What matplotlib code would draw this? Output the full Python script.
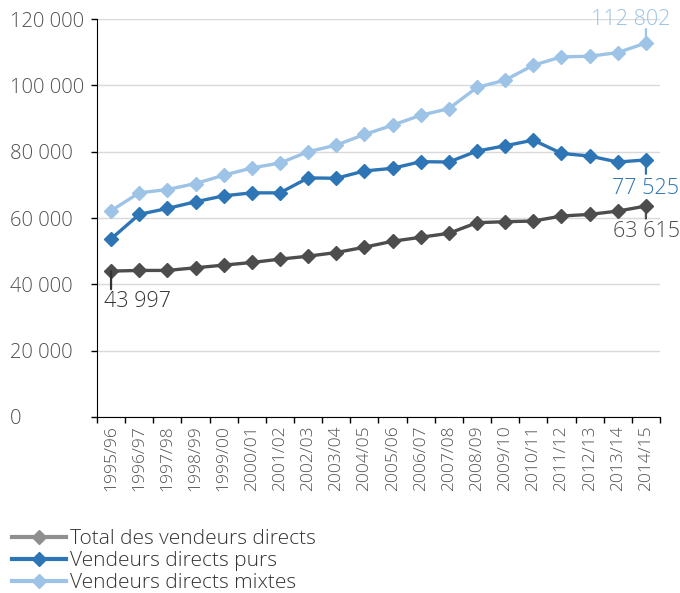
import matplotlib
matplotlib.use("Agg")
import matplotlib.pyplot as plt
from matplotlib.lines import Line2D
from matplotlib.ticker import FuncFormatter, MultipleLocator

plt.rcParams["font.family"] = ["Open Sans", "DejaVu Sans"]

seasons = [
    "1995/96", "1996/97", "1997/98", "1998/99", "1999/00", "2000/01",
    "2001/02", "2002/03", "2003/04", "2004/05", "2005/06", "2006/07",
    "2007/08", "2008/09", "2009/10", "2010/11", "2011/12", "2012/13",
    "2013/14", "2014/15",
]
total = [43997, 44200, 44200, 45000, 45800, 46600, 47600, 48500, 49600,
         51200, 53000, 54200, 55400, 58600, 58900, 59100, 60600, 61100,
         62100, 63615]
purs = [53700, 61100, 62900, 64900, 66700, 67600, 67600, 72100, 72000,
        74200, 75000, 77000, 76900, 80200, 81800, 83500, 79500, 78700,
        76900, 77525]
mixtes = [62200, 67600, 68600, 70400, 72900, 75100, 76600, 80000, 82000,
          85200, 88000, 91000, 93000, 99400, 101600, 106100, 108600,
          108800, 109900, 112802]

GRAY = "#4d4d4d"
GRAY_LEG = "#8f8f8f"
BLUE = "#2e75b6"
LIGHT = "#9dc3e6"
TXT = "#505050"

fig = plt.figure(figsize=(6.8, 5.93), dpi=100)
ax = fig.add_axes([0.1426, 0.2968, 0.828, 0.671])

x = list(range(len(seasons)))
ax.plot(x, total, color=GRAY, lw=2.4, marker="D", ms=7, zorder=3)
ax.plot(x, purs, color=BLUE, lw=2.4, marker="D", ms=7, zorder=3)
ax.plot(x, mixtes, color=LIGHT, lw=2.4, marker="D", ms=7, zorder=3)

ax.set_xlim(-0.5, len(seasons) - 0.5)
ax.set_ylim(0, 120000)
ax.yaxis.set_major_locator(MultipleLocator(20000))
ax.yaxis.set_major_formatter(
    FuncFormatter(lambda v, _: f"{int(v):,}".replace(",", " ")))
ax.grid(axis="y", color="#d9d9d9", lw=1)
ax.set_axisbelow(True)

ax.set_xticks(x)
ax.set_xticklabels(seasons, rotation=90)
ax.set_xticks([i + 0.5 for i in range(-1, len(seasons))], minor=True)
ax.tick_params(axis="x", which="major", length=0, pad=6,
               labelsize=12.5, labelcolor=TXT)
ax.tick_params(axis="x", which="minor", length=4, width=1, color="black")
# y labels are left-aligned at the figure's left margin
ax.tick_params(axis="y", length=4, width=1, labelsize=14.5, labelcolor=TXT,
               pad=58.5)
for t in ax.get_yticklabels():
    t.set_ha("left")
    t.set_fontweight("light")
for t in ax.get_xticklabels():
    t.set_fontweight("light")

for side in ("top", "right"):
    ax.spines[side].set_visible(False)
ax.spines["left"].set_color("black")
ax.spines["bottom"].set_color("black")


def label(i, vals, text, color, lead, off, ha, va):
    ax.annotate("", xy=(i, vals[i]), xytext=(0, lead),
                textcoords="offset points",
                arrowprops=dict(arrowstyle="-", color=color, lw=1.6,
                                shrinkA=0, shrinkB=0))
    ax.annotate(text, xy=(i, vals[i]), xytext=off,
                textcoords="offset points", ha=ha, va=va,
                color=color, fontsize=15.5, fontweight="light",
                annotation_clip=False)


label(0, total, "43 997", "#333333", -13, (-5, -14), "left", "top")
label(19, mixtes, "112 802", LIGHT, 10, (-11, 17), "center", "center")
label(19, purs, "77 525", BLUE, -10, (-24.5, -20.5), "left", "center")
label(19, total, "63 615", GRAY, -9, (-24, -18), "left", "center")

handles = [
    Line2D([], [], color=GRAY_LEG, lw=3, marker="D", ms=7),
    Line2D([], [], color=BLUE, lw=3, marker="D", ms=7),
    Line2D([], [], color=LIGHT, lw=3, marker="D", ms=7),
]
names = ["Total des vendeurs directs", "Vendeurs directs purs",
         "Vendeurs directs mixtes"]
leg = fig.legend(handles, names, loc="lower left",
                 bbox_to_anchor=(0.006, -0.014), frameon=False, fontsize=15,
                 handlelength=2.55, handletextpad=0.2, labelspacing=0.1,
                 borderaxespad=0)
for t in leg.get_texts():
    t.set_color("#333333")
    t.set_fontweight("light")

fig.savefig("out.png", dpi=100)
